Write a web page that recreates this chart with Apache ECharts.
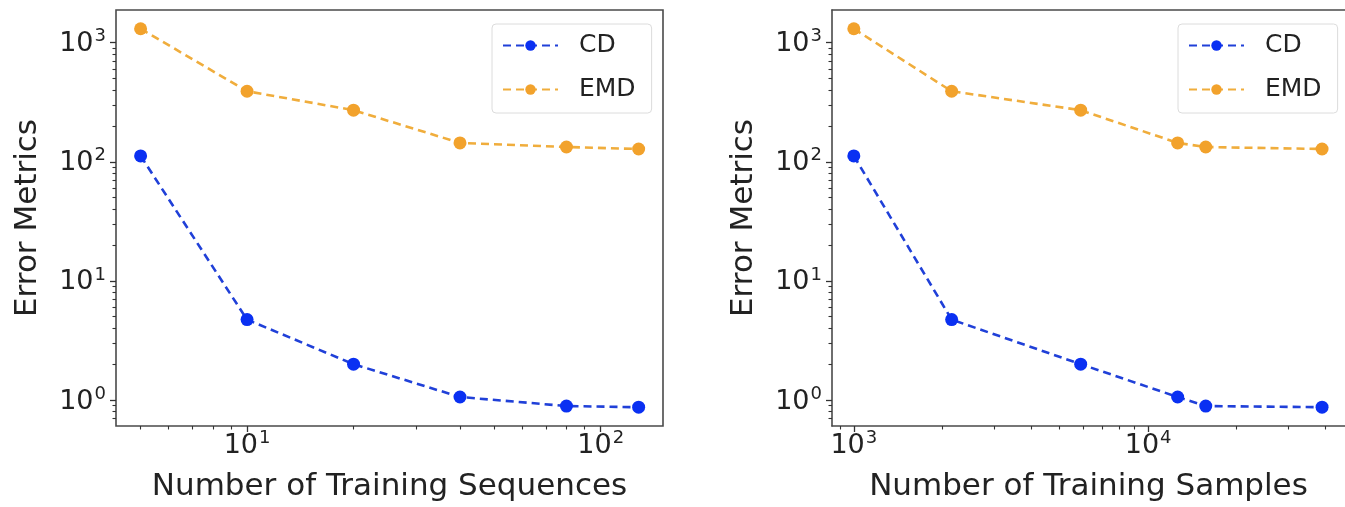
<!DOCTYPE html>
<html>
<head>
<meta charset="utf-8">
<script src="https://cdn.jsdelivr.net/npm/echarts@6/dist/echarts.min.js"></script>
<style>
html,body{margin:0;padding:0;background:#fff;overflow:hidden;}
#chart{width:1345px;height:507px;}
</style>
</head>
<body>
<div id="chart"></div>
<script>
// ---- data ----
const seqX = [5, 10, 20, 40, 80, 128];
const cdSeq = [112, 4.73, 2.0, 1.06, 0.89, 0.87];
const emdSeq = [1309, 391, 271, 144, 133, 128];

const samplesX = [1000, 2150, 5900, 12600, 15700, 39000];
const cdSamples = [112, 4.73, 2.0, 1.06, 0.89, 0.87];
const emdSamples = [1309, 391, 271, 144, 133, 128];

// ---- tick values ----
const yMajor = [1, 10, 100, 1000];
const yMinor = [0.7, 0.8, 0.9, 2, 3, 4, 5, 6, 7, 8, 9, 20, 30, 40, 50, 60, 70, 80, 90,
                200, 300, 400, 500, 600, 700, 800, 900];
const xMajorSeq = [10, 100];
const xMinorSeq = [5, 6, 7, 8, 9, 20, 30, 40, 50, 60, 70, 80, 90];
const xMajorSamples = [1000, 10000];
const xMinorSamples = [900, 2000, 3000, 4000, 5000, 6000, 7000, 8000, 9000, 20000, 30000, 40000];

const FONT = 'DejaVu Sans';
const TXT = '#222';
const SPINE = '#4a4a4a';
const BLUE = '#0a30f2', BLUE_LINE = '#2040d8';
const ORANGE = '#f2a22c', ORANGE_LINE = '#f0ad3c';

const rich = {
  b: {fontFamily: FONT, fontSize: 27, color: TXT, lineHeight: 30, verticalAlign: 'bottom'},
  s: {fontFamily: FONT, fontSize: 18, color: TXT, lineHeight: 30, verticalAlign: 'top', padding: [0, 0, 0, 1]}
};
const powFmt = v => '{b|10}{s|' + Math.round(Math.log10(v)) + '}';

function majorAxis(gridIndex, min, max, vals, isX, showLine) {
  return {
    type: 'log', logBase: 10, gridIndex, min, max,
    position: isX ? 'bottom' : 'left',
    splitLine: {show: false},
    axisLine: {show: !!showLine, lineStyle: {color: SPINE, width: 1.6}},
    axisTick: {show: true, inside: false, length: 6, customValues: vals,
               lineStyle: {color: '#333', width: 1.3}},
    axisLabel: {show: true, customValues: vals, formatter: powFmt, rich,
                margin: isX ? 3 : 10},
    nameTextStyle: {fontFamily: FONT, fontSize: 31, color: TXT},
    nameLocation: 'middle'
  };
}
function minorAxis(gridIndex, min, max, vals, isX) {
  return {
    type: 'log', logBase: 10, gridIndex, min, max,
    position: isX ? 'bottom' : 'left',
    splitLine: {show: false},
    axisLine: {show: false},
    axisTick: {show: true, inside: false, length: 3.5, customValues: vals,
               lineStyle: {color: '#333', width: 1.1}},
    axisLabel: {show: false}
  };
}
function topSpine(gridIndex, min, max) {
  return {
    type: 'log', logBase: 10, gridIndex, min, max, position: 'top',
    splitLine: {show: false}, axisTick: {show: false}, axisLabel: {show: false},
    axisLine: {show: true, lineStyle: {color: SPINE, width: 1.6}}
  };
}

// right plot extends past the right edge of the picture (its right spine is cut off)
const gridL = {left: 116, top: 10, width: 547, height: 418, show: true,
               borderColor: SPINE, borderWidth: 1.6, backgroundColor: '#fff'};
const gridR = {left: 832, top: 10, right: -3, height: 418, show: false};

const xMinL = 4.26, xMaxL = 150;
const xMinR = 843, xMaxR = 46670;
const yMin = 0.605, yMax = 1880;

const xL = Object.assign(majorAxis(0, xMinL, xMaxL, xMajorSeq, true, false),
  {name: 'Number of Training Sequences', nameGap: 45});
const xR = Object.assign(majorAxis(1, xMinR, xMaxR, xMajorSamples, true, true),
  {name: 'Number of Training Samples', nameGap: 45});
const yL = Object.assign(majorAxis(0, yMin, yMax, yMajor, false, false),
  {name: 'Error Metrics', nameGap: 73, nameRotate: 90});
const yR = Object.assign(majorAxis(1, yMin, yMax, yMajor, false, true),
  {name: 'Error Metrics', nameGap: 73, nameRotate: 90});

function lineSeries(name, xs, ys, xi, yi, color, lineColor) {
  return {
    name, type: 'line', xAxisIndex: xi, yAxisIndex: yi,
    data: xs.map((x, i) => [x, ys[i]]),
    symbol: 'circle', symbolSize: 13, showSymbol: true,
    itemStyle: {color},
    lineStyle: {color: lineColor, width: 2.6, type: [8, 5]},
    emphasis: {disabled: true}, animation: false, z: name === 'CD' ? 3 : 2
  };
}

const legendBase = {
  orient: 'vertical', top: 24, itemWidth: 55, itemHeight: 13, itemGap: 19,
  padding: [9, 16, 11, 10], borderColor: '#dcdcdc', borderWidth: 1, borderRadius: 4,
  backgroundColor: 'rgba(255,255,255,0.8)',
  textStyle: {fontFamily: FONT, fontSize: 25, color: TXT, lineHeight: 24, padding: [0, 0, 0, 16]},
  data: ['CD', 'EMD']
};

const option = {
  animation: false,
  grid: [gridL, gridR],
  xAxis: [xL, xR,
          minorAxis(0, xMinL, xMaxL, xMinorSeq, true),
          minorAxis(1, xMinR, xMaxR, xMinorSamples, true),
          topSpine(1, xMinR, xMaxR)],
  yAxis: [yL, yR, minorAxis(0, yMin, yMax, yMinor, false), minorAxis(1, yMin, yMax, yMinor, false)],
  legend: [
    Object.assign({}, legendBase, {left: 492}),
    Object.assign({}, legendBase, {left: 1178})
  ],
  series: [
    lineSeries('CD', seqX, cdSeq, 0, 0, BLUE, BLUE_LINE),
    lineSeries('EMD', seqX, emdSeq, 0, 0, ORANGE, ORANGE_LINE),
    lineSeries('CD', samplesX, cdSamples, 1, 1, BLUE, BLUE_LINE),
    lineSeries('EMD', samplesX, emdSamples, 1, 1, ORANGE, ORANGE_LINE)
  ]
};

const chart = echarts.init(document.getElementById('chart'), null, {renderer: 'canvas'});
chart.setOption(option);
</script>
</body>
</html>
